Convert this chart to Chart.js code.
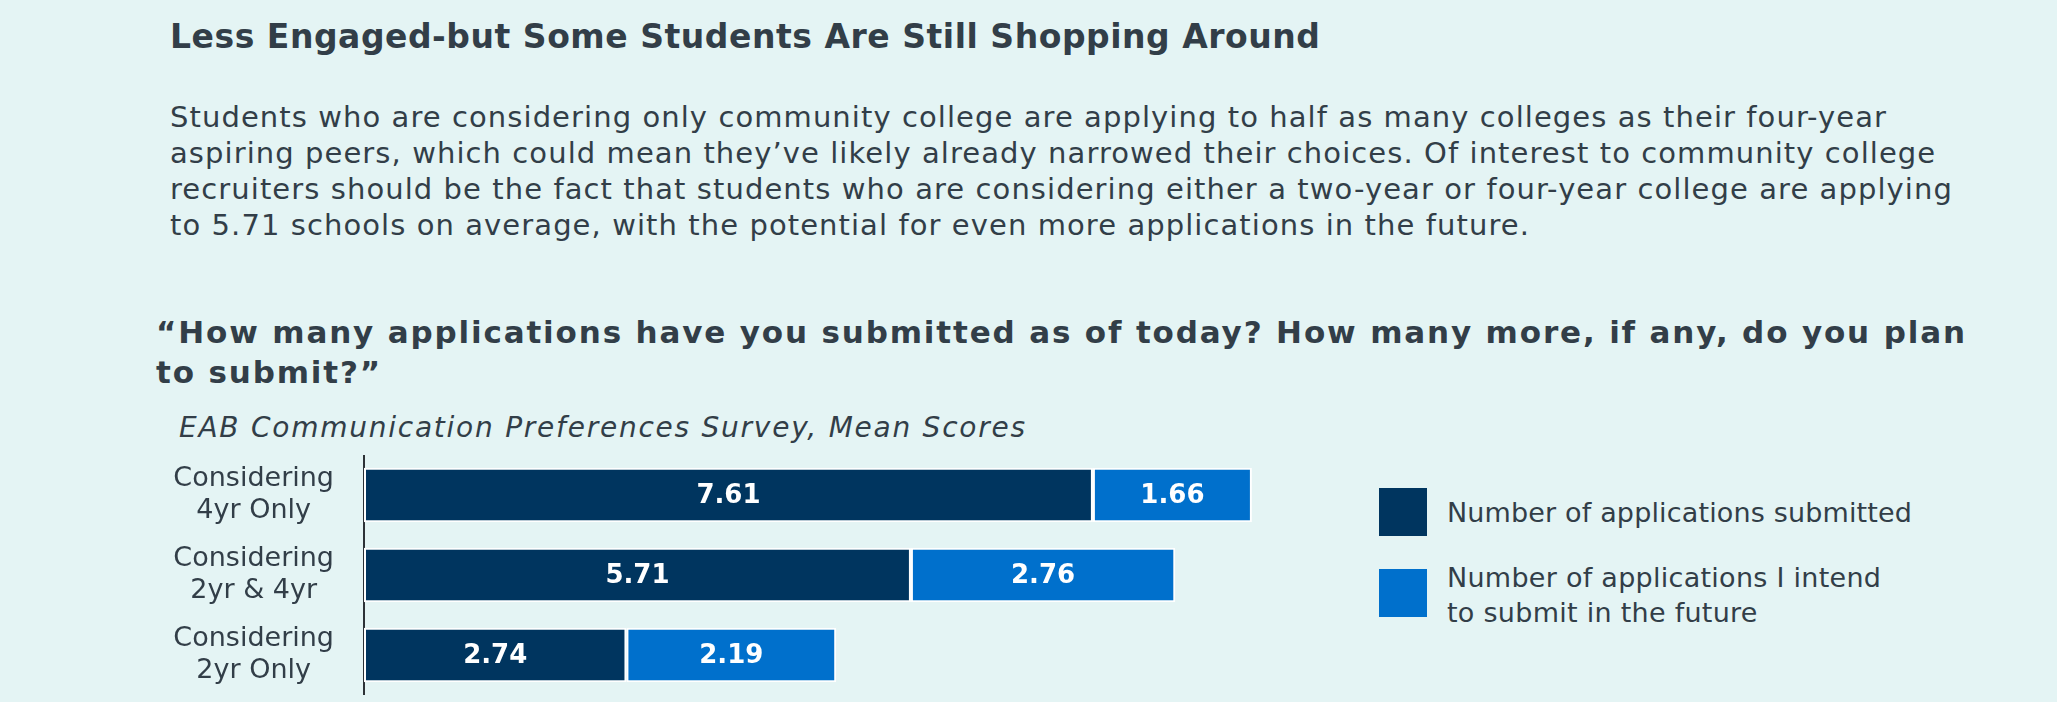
<!DOCTYPE html>
<html>
<head>
<meta charset="utf-8">
<script src="https://cdn.jsdelivr.net/npm/chart.js@4"></script>
<style>
  html, body { margin: 0; padding: 0; }
  body { width: 2057px; height: 702px; background: #e4f4f4; position: relative; overflow: hidden;
         font-family: "DejaVu Sans", Verdana, sans-serif; color: #323e48; }
  .txt { position: absolute; white-space: nowrap; }
  .ln { display: block; }
  #title { left: 170px; top: 17px; font-size: 33px; line-height: 40px; font-weight: bold; }
  #para { left: 170px; top: 99px; font-size: 29px; line-height: 36px; }
  #question { left: 156px; top: 312px; font-size: 31px; line-height: 40px; font-weight: bold; }
  #source { left: 179px; top: 411px; font-size: 28px; line-height: 34px; font-style: italic; }
  #myChart { position: absolute; left: 0; top: 455px; }
  #legend { position: absolute; left: 1379px; top: 488px; }
  .item { position: relative; height: 81px; }
  .box { position: absolute; left: 0; top: 0; width: 48px; height: 48px; }
  .lab { position: absolute; left: 68px; font-size: 27px; line-height: 35px; white-space: nowrap; }
</style>
</head>
<body>
<div id="title" class="txt" data-w="1150"><span class="ln">Less Engaged-but Some Students Are Still Shopping Around</span></div>
<div id="para" class="txt" data-w="1716"><span class="ln">Students who are considering only community college are applying to half as many colleges as their four-year</span><span class="ln">aspiring peers, which could mean they’ve likely already narrowed their choices. Of interest to community college</span><span class="ln">recruiters should be the fact that students who are considering either a two-year or four-year college are applying</span><span class="ln">to 5.71 schools on average, with the potential for even more applications in the future.</span></div>
<div id="question" class="txt" data-w="1809"><span class="ln">“How many applications have you submitted as of today? How many more, if any, do you plan</span><span class="ln">to submit?”</span></div>
<div id="source" class="txt" data-w="846"><span class="ln">EAB Communication Preferences Survey, Mean Scores</span></div>
<canvas id="myChart" width="1330" height="240" style="width:1330px;height:240px"></canvas>
<div id="legend"></div>
<script>
// 데이터
const categories = [['Considering', '4yr Only'], ['Considering', '2yr & 4yr'], ['Considering', '2yr Only']];
const submitted = [7.61, 5.71, 2.74];
const intended = [1.66, 2.76, 2.19];
const seriesNames = [['Number of applications submitted'], ['Number of applications I intend', 'to submit in the future']];
const seriesColors = ['#00355f', '#0070cc'];

const textColor = '#323e48';
const font = '"DejaVu Sans", Verdana, sans-serif';

// 글자 폭 맞추기 (첫 줄 기준)
function fitWidth(el, target) {
  const first = el.querySelector('.ln');
  const probe = document.createElement('span');
  probe.textContent = first.textContent;
  probe.style.display = 'inline-block';
  el.appendChild(probe);
  const w = probe.getBoundingClientRect().width;
  el.removeChild(probe);
  const ls = (target - w) / Math.max(1, first.textContent.length - 1);
  el.style.letterSpacing = ls.toFixed(3) + 'px';
}
document.querySelectorAll('[data-w]').forEach(el => fitWidth(el, +el.dataset.w));

// 막대 가운데 값 표시
const valueLabels = {
  id: 'valueLabels',
  afterDatasetsDraw(chart) {
    const c = chart.ctx;
    c.save();
    c.fillStyle = '#ffffff';
    c.font = 'bold 26px ' + font;
    c.textAlign = 'center';
    c.textBaseline = 'middle';
    chart.data.datasets.forEach((ds, i) => {
      chart.getDatasetMeta(i).data.forEach((bar, j) => {
        const p = bar.getCenterPoint();
        c.fillText(ds.data[j].toFixed(2), p.x, p.y + 1);
      });
    });
    c.restore();
  }
};

const ctx = document.getElementById('myChart');
const chart = new Chart(ctx, {
  type: 'bar',
  data: {
    labels: categories,
    datasets: [submitted, intended].map((d, i) => ({
      label: seriesNames[i].join(' '),
      data: d,
      backgroundColor: seriesColors[i],
      borderColor: '#ffffff',
      borderWidth: 2,
      borderSkipped: false,
      barPercentage: 0.68,
      categoryPercentage: 1
    }))
  },
  options: {
    indexAxis: 'y',
    responsive: false,
    devicePixelRatio: 1,
    animation: false,
    layout: { padding: { left: 0, right: 12, top: 0, bottom: 0 } },
    plugins: { legend: { display: false }, tooltip: { enabled: false } },
    scales: {
      x: { stacked: true, min: 0, max: 9.96, display: false },
      y: {
        stacked: true,
        grid: { display: false, drawTicks: false },
        border: { display: true, color: '#2c3136', width: 2 },
        ticks: {
          crossAlign: 'center',
          padding: 30,
          color: textColor,
          font: { family: font, size: 27, lineHeight: 1.22 }
        },
        afterFit(scale) {
          scale.width = 364;
          scale.paddingTop = 0;
          scale.paddingBottom = 0;
        }
      }
    }
  },
  plugins: [valueLabels]
});

// 범례
let html = '';
chart.data.datasets.forEach((ds, i) => {
  const lines = seriesNames[i];
  const top = lines.length > 1 ? -9 : 7;
  html += `<div class="item"><div class="box" style="background:${ds.backgroundColor}"></div>
           <div class="lab" data-w="${i === 0 ? 465 : 434}" style="top:${top}px">${lines.map(l => `<span class="ln">${l}</span>`).join('')}</div></div>`;
});
const legendEl = document.getElementById('legend');
legendEl.innerHTML = html;
legendEl.querySelectorAll('[data-w]').forEach(el => fitWidth(el, +el.dataset.w));
</script>
</body>
</html>
